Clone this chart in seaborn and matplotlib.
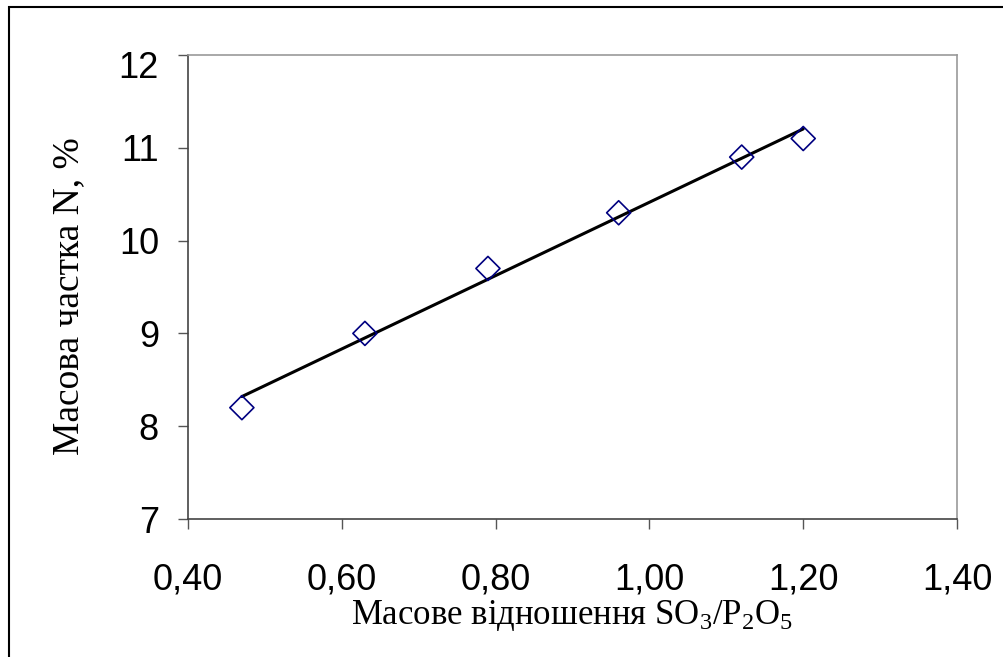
import numpy as np
import pandas as pd
import matplotlib
matplotlib.use('Agg')
import matplotlib.pyplot as plt
import matplotlib.transforms as mtransforms
from matplotlib.patches import Rectangle
import seaborn as sns

# data
ratio = [0.47, 0.63, 0.79, 0.96, 1.12, 1.20]
nitrogen = [8.2, 9.0, 9.7, 10.3, 10.9, 11.1]

x_ticks = [0.40, 0.60, 0.80, 1.00, 1.20, 1.40]
x_labels = ['0,40', '0,60', '0,80', '1,00', '1,20', '1,40']
y_ticks = [7, 8, 9, 10, 11, 12]
y_labels = ['7', '8', '9', '10', '11', '12']

df = pd.DataFrame({'ratio': ratio, 'N': nitrogen})

sns.set_style('white')
plt.rcParams['font.family'] = ['Liberation Sans', 'DejaVu Sans']
plt.rcParams['mathtext.fontset'] = 'custom'
plt.rcParams['mathtext.rm'] = 'Liberation Serif'
plt.rcParams['mathtext.it'] = 'Liberation Serif:italic'

fig = plt.figure(figsize=(10.04, 6.57), dpi=100)
fig.patch.set_facecolor('white')
ax = fig.add_axes([0.1873, 0.2100, 0.7659, 0.7063])

# outer frame (only top/left visible in the reference)
fig.patches.append(Rectangle((9 / 1004, -0.1), 1.2, 1 - 7 / 657 + 0.1,
                             transform=fig.transFigure, fill=False,
                             edgecolor='black', linewidth=1.5))

# linear trend line
sns.regplot(data=df, x='ratio', y='N', scatter=False, ci=None, ax=ax,
            line_kws={'color': 'black', 'linewidth': 2.2})
sns.scatterplot(data=df, x='ratio', y='N', marker='D', s=150,
                facecolor='none', edgecolor='#000080', linewidth=1.2,
                ax=ax, zorder=3)

ax.set_xlim(0.40, 1.40)
ax.set_ylim(7, 12)
ax.set_xticks(x_ticks)
ax.set_xticklabels(x_labels)
ax.set_yticks(y_ticks)
ax.set_yticklabels(y_labels)
ax.tick_params(axis='both', direction='out', length=7, width=1,
               bottom=True, left=True,
               color='#555555', labelsize=26, labelcolor='black')
ax.tick_params(axis='x', pad=24)
ax.tick_params(axis='y', pad=14)

# top label sits a little lower, as in the reference
top_lab = ax.get_yticklabels()[-1]
top_lab.set_transform(top_lab.get_transform() +
                      mtransforms.ScaledTranslation(0, -10 / 100, fig.dpi_scale_trans))

for side in ['left', 'bottom']:
    ax.spines[side].set_color('#444444')
    ax.spines[side].set_linewidth(1.2)
for side in ['top', 'right']:
    ax.spines[side].set_color('#999999')
    ax.spines[side].set_linewidth(1.2)

ax.set_xlabel(r'Масове відношення SO$_\mathrm{3}$/P$_\mathrm{2}$O$_\mathrm{5}$',
              fontfamily='Liberation Serif', fontsize=25, labelpad=1,
              color='black')
ax.set_ylabel('Масова частка N, %', fontfamily='Liberation Serif',
              fontsize=27, labelpad=23, color='black')
ax.yaxis.label.set_y(0.48)

fig.savefig('out.png', dpi=100, facecolor='white')
